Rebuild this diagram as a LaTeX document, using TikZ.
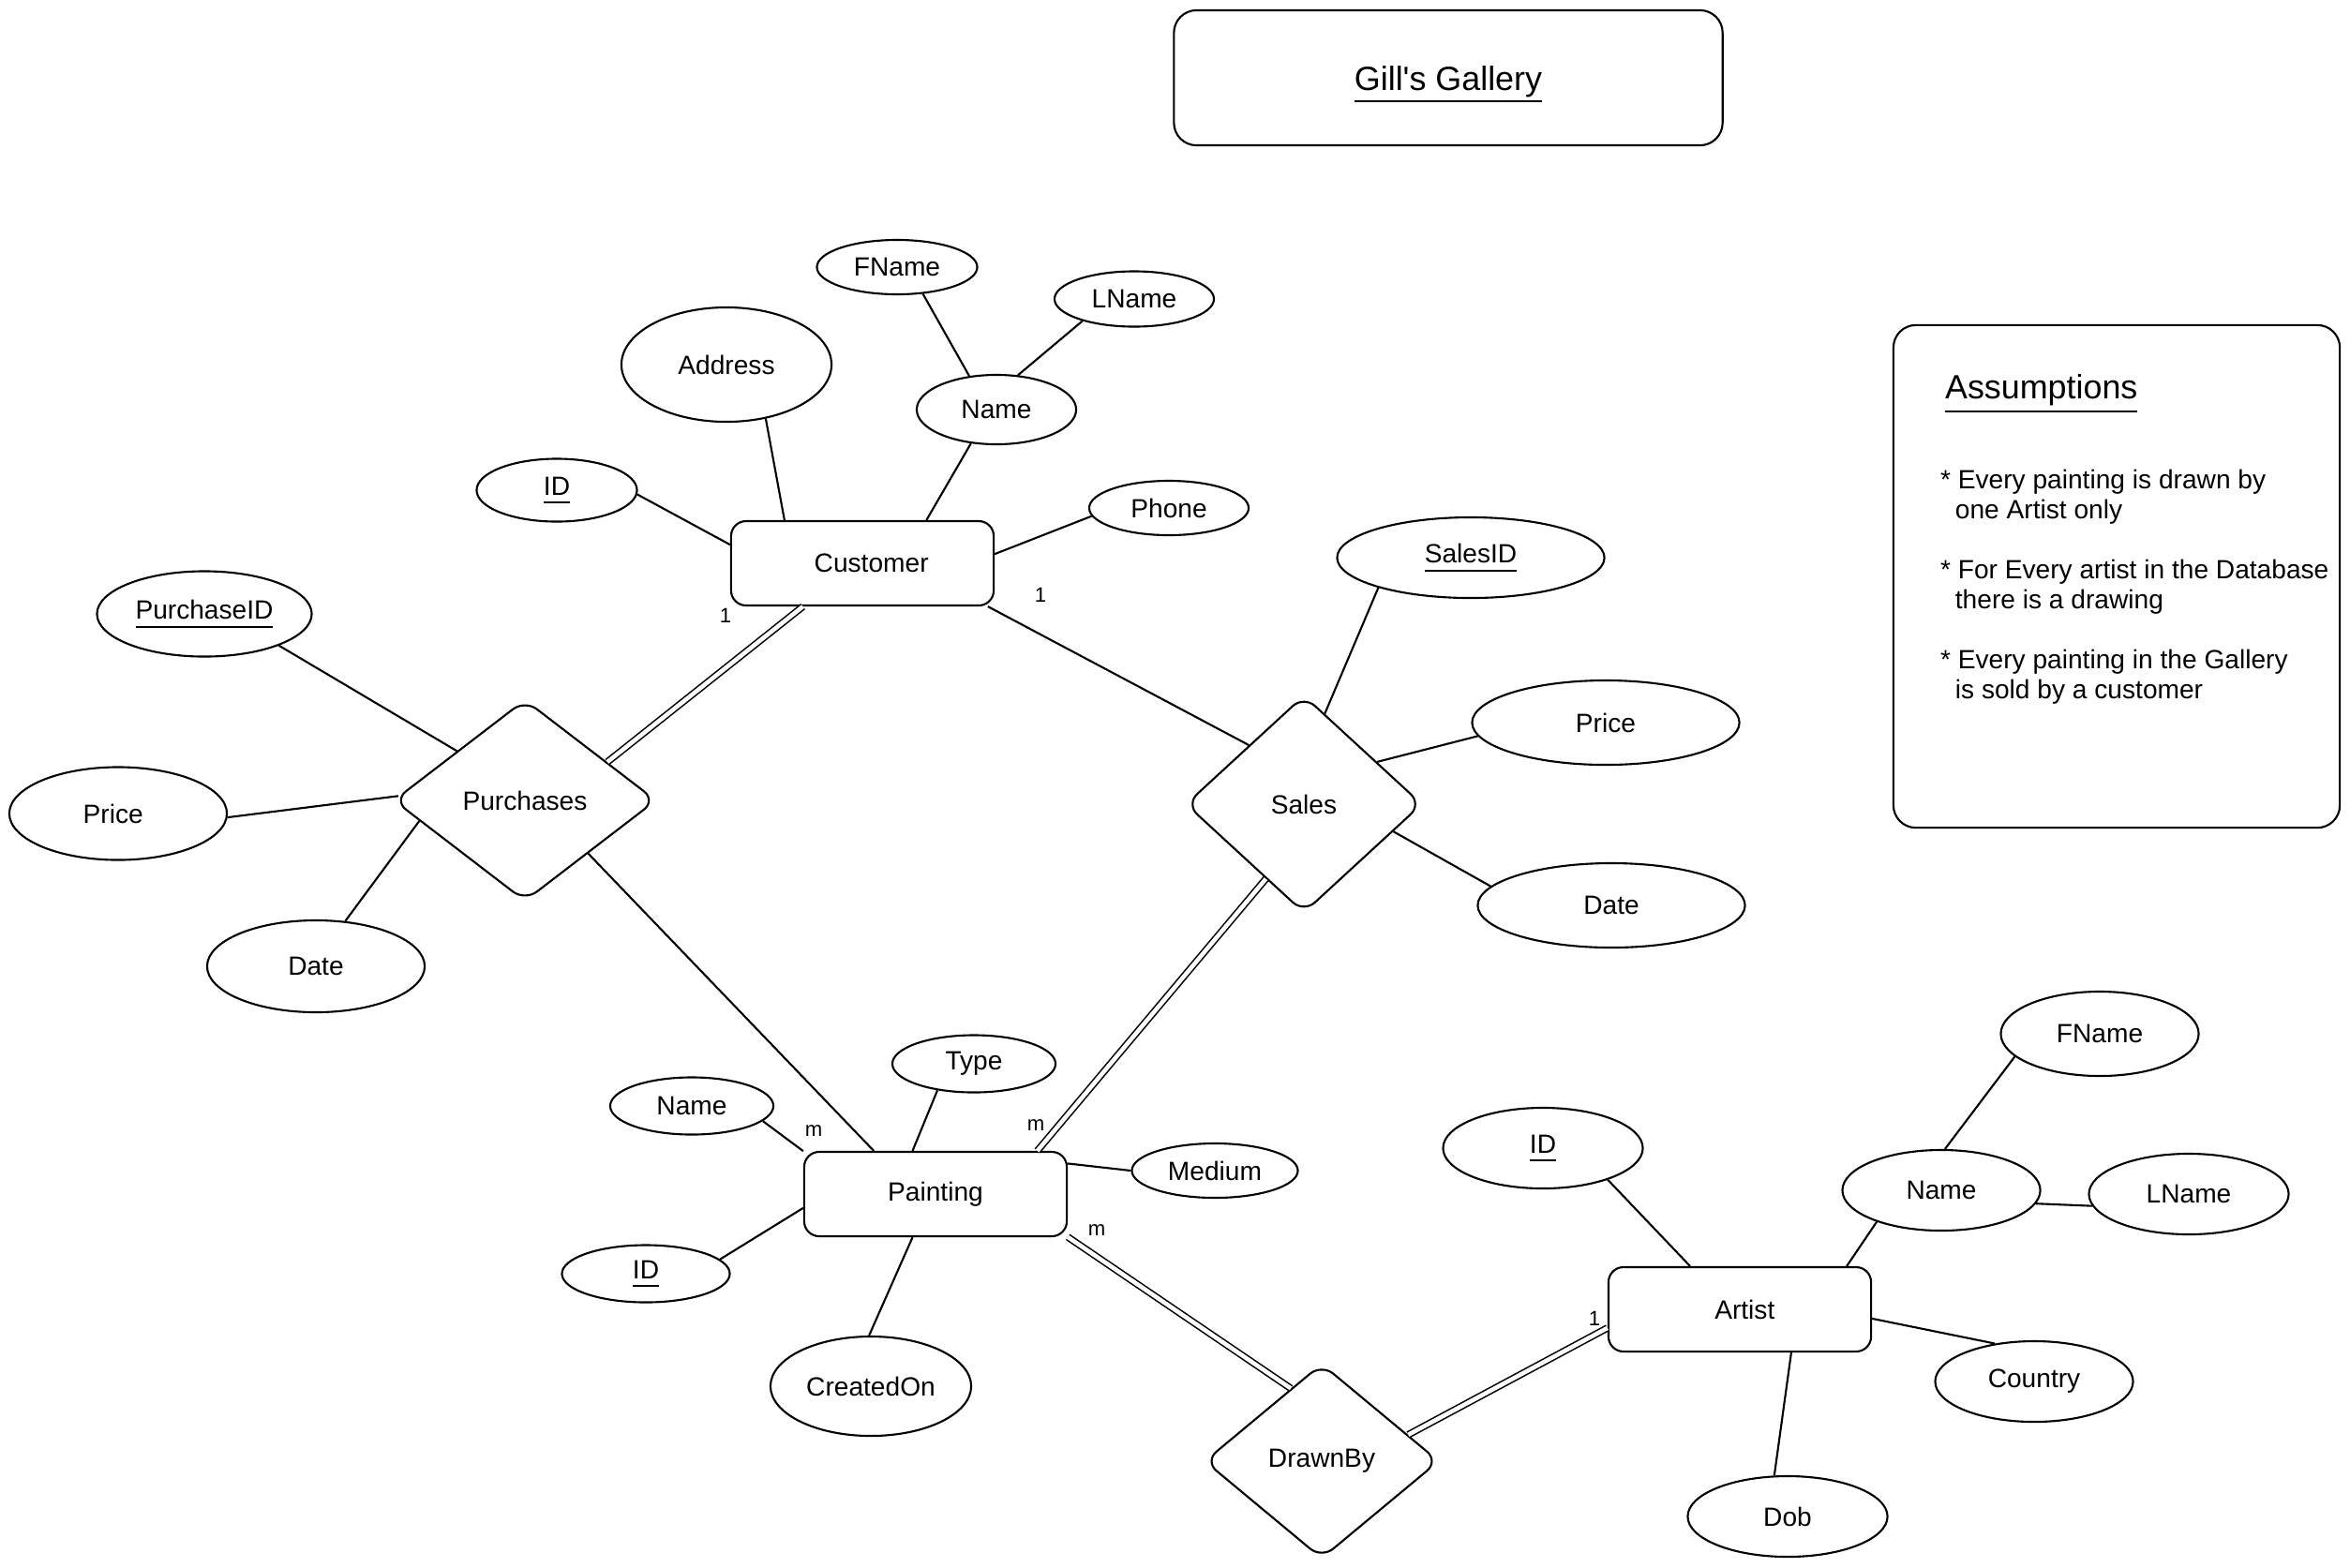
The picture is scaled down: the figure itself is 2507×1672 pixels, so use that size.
\documentclass[tikz,border=0pt]{standalone}
\usepackage{fontspec}
\setmainfont{Liberation Sans}
% same face without TeX ligatures, so that ' stays a straight quote
\newfontfamily\plainsans{Liberation Sans}
\usetikzlibrary{shapes.geometric}

% underlined key attribute: rule set a little below the baseline
\newlength\keywd
\newcommand\keyul[2][2.5pt]{\settowidth\keywd{#2}\rlap{#2}\rule[-#1]{\keywd}{0.5pt}}

\tikzset{
  entbox/.style={draw, rectangle, rounded corners=0.16cm, minimum width=2.8cm,
    minimum height=0.9cm, inner sep=0pt, font=\fontsize{8}{9.6}\selectfont},
  relbox/.style 2 args={draw, diamond, rounded corners=0.16cm, inner sep=0pt,
    minimum width=#1cm, minimum height=#2cm, font=\fontsize{8}{9.6}\selectfont},
  attrbox/.style 2 args={draw, ellipse, inner sep=0pt,
    minimum width=#1cm, minimum height=#2cm, font=\fontsize{8}{9.6}\selectfont},
  dlink/.style={double, double distance=1.3pt, line width=0.45pt},
  card/.style={inner sep=0pt, font=\fontsize{6.3}{7}\selectfont},
}

\begin{document}
\begin{tikzpicture}[x=0.01cm, y=-0.01cm, line width=0.6pt]
\useasboundingbox (0,0) rectangle (2507,1672);

% title
\node[draw, rounded corners=0.24cm, minimum width=5.85cm, minimum height=1.44cm] (titlebox) at (1545,83) {};
\node[anchor=base, inner sep=0pt, font=\plainsans\fontsize{10.2}{12}\selectfont] (title) at (1545,96) {\keyul[3.7pt]{Gill's Gallery}};

% assumptions
\node[draw, rounded corners=0.24cm, minimum width=4.76cm, minimum height=5.36cm] (abox) at (2258,615) {};
\node[anchor=base west, inner sep=0pt, font=\fontsize{10.2}{12}\selectfont] (ahead) at (2074,425) {\keyul[4.3pt]{Assumptions}};
\node[anchor=north west, align=left, inner sep=0pt, font=\fontsize{8}{9.1}\selectfont] (abody) at (2069,500)
  {* Every painting is drawn by\\
   \hspace*{4.5pt}one Artist only\\[9.1pt]
   * For Every artist in the Database\\
   \hspace*{4.5pt}there is a drawing\\[9.1pt]
   * Every painting in the Gallery\\
   \hspace*{4.5pt}is sold by a customer};

% entities
\node[entbox] (cust) at (920,601) {\hspace*{5.5pt}Customer};
\node[entbox] (paint) at (998,1274) {Painting};
\node[entbox] (artist) at (1856,1397) {\hspace*{3pt}Artist};

% relationships
\node[relbox={2.80}{2.15}] (purch) at (560,854) {Purchases};
\node[relbox={2.52}{2.32}] (sales) at (1391,858) {Sales};
\node[relbox={2.50}{2.08}] (drawn) at (1410,1559) {DrawnBy};

% customer attributes
\node[attrbox={1.71}{0.67}] (cid) at (594,523) {\keyul{ID}};
\node[attrbox={2.24}{1.22}] (caddr) at (775,389) {Address};
\node[attrbox={1.70}{0.74}] (cname) at (1063,437) {Name};
\node[attrbox={1.71}{0.58}] (cfname) at (957,285) {FName};
\node[attrbox={1.70}{0.59}] (clname) at (1210,319) {LName};
\node[attrbox={1.70}{0.58}] (cphone) at (1247,542) {Phone};

% purchases attributes
\node[attrbox={2.29}{0.91}] (purid) at (218,655) {\keyul{PurchaseID}};
\node[attrbox={2.32}{0.99}] (purprice) at (126,868) {\hspace*{-3pt}Price};
\node[attrbox={2.32}{0.98}] (purdate) at (337,1031) {Date};

% sales attributes
\node[attrbox={2.85}{0.86}] (salid) at (1569,595) {\keyul{SalesID}};
\node[attrbox={2.85}{0.90}] (salprice) at (1713,771) {Price};
\node[attrbox={2.85}{0.90}] (saldate) at (1719,966) {Date};

% painting attributes
\node[attrbox={1.74}{0.61}] (ptype) at (1039,1135) {Type};
\node[attrbox={1.74}{0.61}] (pname) at (738,1180) {Name};
\node[attrbox={1.77}{0.58}] (pmedium) at (1296,1249) {Medium};
\node[attrbox={1.79}{0.61}] (painid) at (689,1359) {\keyul{ID}};
\node[attrbox={2.14}{1.06}] (pcreated) at (929,1479) {CreatedOn};

% artist attributes
\node[attrbox={2.13}{0.86}] (aid) at (1646,1225) {\keyul{ID}};
\node[attrbox={2.11}{0.86}] (aname) at (2071,1270) {Name};
\node[attrbox={2.11}{0.90}] (afname) at (2240,1103) {FName};
\node[attrbox={2.13}{0.86}] (alname) at (2335,1274) {LName};
\node[attrbox={2.11}{0.86}] (acountry) at (2170,1474) {Country};
\node[attrbox={2.13}{0.86}] (adob) at (1907,1618) {Dob};

% attribute links
\draw (cid.-3) -- (cust.172.8);
\draw (caddr.-54) -- (cust.151.5);
\draw (cname.233.5) -- (cust.34);
\draw (cfname.-46) -- (cname.129);
\draw (clname.203) -- (cname.58);
\draw (cphone.186) -- (cust.4.6);
\draw (purid.-23.7) -- (purch.144.7);
\draw (purprice.-2) -- (purch.178.6);
\draw (purdate.57) -- (purch.191);
\draw (salid.198.4) -- (sales.77.7);
\draw (salprice.186) -- (sales.30.5);
\draw (saldate.171) -- (sales.-17.9);
\draw (pname.-12.5) -- (paint.162.4);
\draw (ptype.216.9) -- (paint.118);
\draw (pmedium.180) -- (paint.13);
\draw (painid.11) -- (paint.186);
\draw (pcreated.92) -- (paint.242);
\draw (aid.-26.6) -- (artist.139.8);
\draw (aname.206) -- (artist.22.8);
\draw (afname.195.5) -- (aname.85);
\draw (alname.187) -- (aname.-8.7);
\draw (acountry.136) -- (artist.-4.2);
\draw (adob.108) -- (artist.-40.2);

% relationship links
\draw[dlink] (cust.216.7) -- (purch.25);
\draw (cust.-19.6) -- (sales.133.5);
\draw (purch.-40) -- (paint.145.7);
\draw[dlink] (sales.243.4) -- (paint.23.3);
\draw[dlink] (paint.-18.9) -- (drawn.113.6);
\draw[dlink] (drawn.17) -- (artist.188.8);

% cardinalities
\node[card] (k1) at (774,657) {1};
\node[card] (k2) at (1110,635) {1};
\node[card] (k3) at (868,1207) {m};
\node[card] (k4) at (1105,1201) {m};
\node[card] (k5) at (1170,1313) {m};
\node[card] (k6) at (1701,1407) {1};
\end{tikzpicture}
\end{document}
